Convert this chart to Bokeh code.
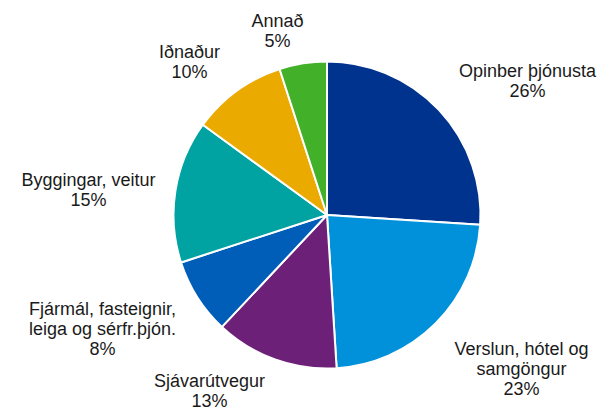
import math
from bokeh.plotting import figure
from bokeh.models import Range1d, ColumnDataSource
from bokeh.core.properties import value
from bokeh.embed import file_html
from bokeh.resources import INLINE

# ---- data ----
categories = [
    "Opinber þjónusta",
    "Verslun, hótel og samgöngur",
    "Sjávarútvegur",
    "Fjármál, fasteignir, leiga og sérfr.þjón.",
    "Byggingar, veitur",
    "Iðnaður",
    "Annað",
]
shares = [26, 23, 13, 8, 15, 10, 5]
label_lines = [
    ["Opinber þjónusta"],
    ["Verslun, hótel og", "samgöngur"],
    ["Sjávarútvegur"],
    ["Fjármál, fasteignir,", "leiga og sérfr.þjón."],
    ["Byggingar, veitur"],
    ["Iðnaður"],
    ["Annað"],
]
colors = ["#00338D", "#0091DA", "#6D2077", "#005EB8", "#00A3A1", "#EAAA00", "#43B02A"]

# ---- layout (screen-like coords: x right, y down from top of window) ----
W, H = 599, 411
PIE_CX, PIE_CY, PIE_R = 326.5, 214.5, 153.5
# centre x and vertical middle of the first line of each label
label_anchor = [(527, 70), (521, 348), (209, 380), (102, 308), (88, 179), (189, 51), (277, 20)]
LINE_H = 20


def ty(y_img):
    return H - y_img


total = sum(shares)
starts, ends = [], []
cum = 0
for s in shares:
    starts.append(math.pi / 2 - 2 * math.pi * cum / total)
    cum += s
    ends.append(math.pi / 2 - 2 * math.pi * cum / total)

src = ColumnDataSource(dict(
    x=[PIE_CX] * len(shares), y=[ty(PIE_CY)] * len(shares),
    start=starts, end=ends, color=colors, cat=categories,
))

p = figure(width=W, height=H, x_range=Range1d(0, W), y_range=Range1d(0, H),
           output_backend="svg", toolbar_location=None, min_border=0,
           x_axis_type=None, y_axis_type=None, outline_line_color=None,
           background_fill_color="white", border_fill_color="white")
p.grid.visible = False

p.wedge(x="x", y="y", radius=PIE_R, start_angle="start", end_angle="end",
        direction="clock", fill_color="color", line_color="white", line_width=2,
        source=src)

tx, tyv, tt = [], [], []
for lines, s, (ax, ay) in zip(label_lines, shares, label_anchor):
    all_lines = lines + [f"{s}%"]
    for i, ln in enumerate(all_lines):
        tx.append(ax)
        tyv.append(ty(ay + i * LINE_H))
        tt.append(ln)

p.text(x=tx, y=tyv, text=tt, text_align="center", text_baseline="middle",
       text_font=value("Liberation Sans"), text_font_size="18px", text_color="#1a1a1a")

open("out.html", "w").write(file_html(p, INLINE))
